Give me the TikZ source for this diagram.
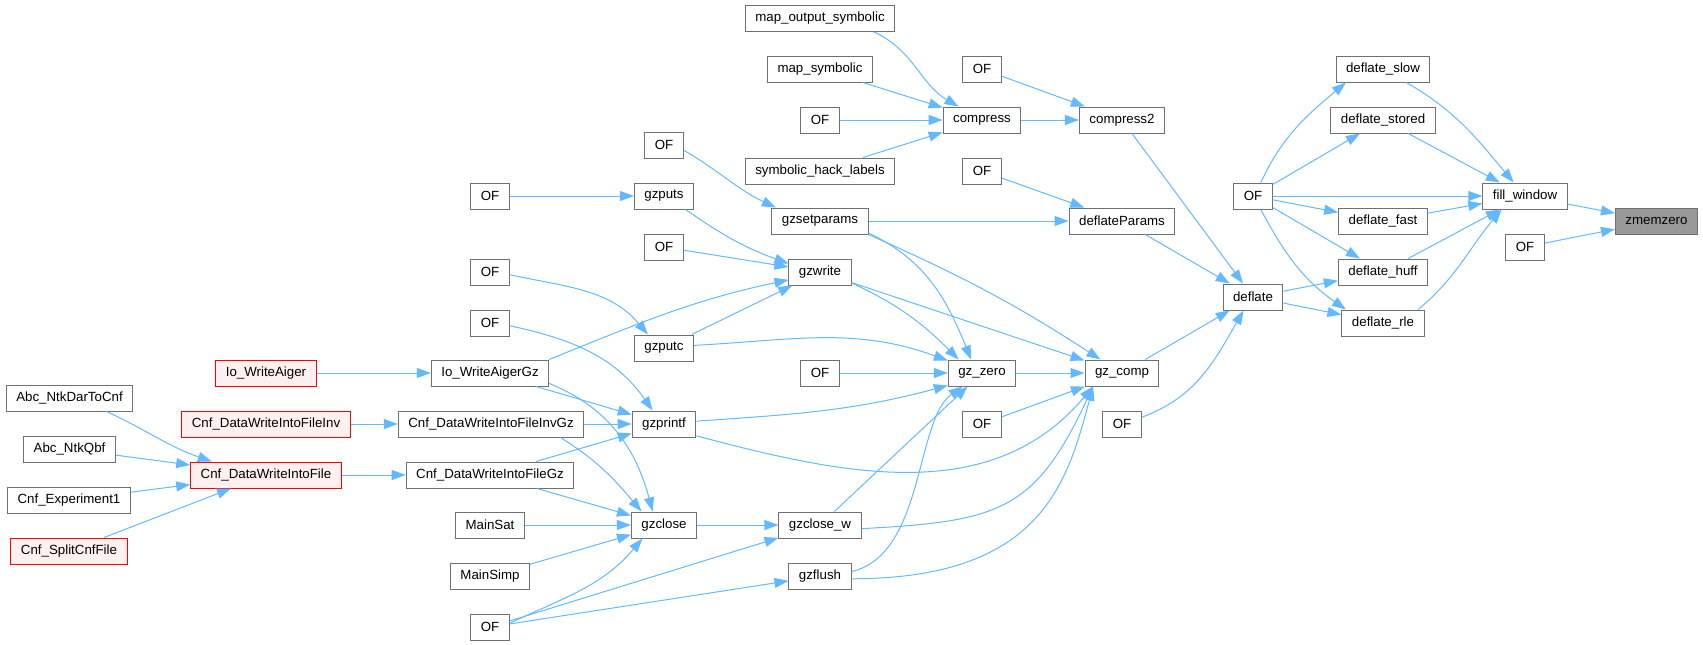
\documentclass[tikz,border=0pt]{standalone}
\usepackage{fontspec}
\setmainfont{Liberation Sans}
\usetikzlibrary{arrows.meta}
\definecolor{edgeblue}{HTML}{63B8FF}
\definecolor{boxgray}{HTML}{707070}
\definecolor{redfill}{HTML}{FFF0F0}
\definecolor{nodegray}{HTML}{999999}
\begin{document}
\begin{tikzpicture}[x=1pt,y=1pt,
    box/.style={draw=boxgray,fill=white,line width=1pt,minimum height=26pt,inner xsep=10pt,inner ysep=0pt,font=\fontsize{13.3}{16}\selectfont},
    redbox/.style={box,draw=red,fill=redfill},
    edge/.style={-{Triangle[length=14pt,width=10pt]},draw=edgeblue,line width=1pt}]
    \useasboundingbox (0,0) rectangle (1703,-645);
    \node[box] (mapout) at (820,-18.5) {map\_output\_symbolic};
    \node[box] (mapsym) at (820,-69) {map\_symbolic};
    \node[box] (ofc) at (820,-120) {OF};
    \node[box] (hack) at (820,-171) {symbolic\_hack\_labels};
    \node[box] (ofctwo) at (982,-69) {OF};
    \node[box] (compress) at (982,-120) {compress};
    \node[box] (ofdp) at (982,-171) {OF};
    \node[box] (compresstwo) at (1122,-120) {compress2};
    \node[box] (deflateparams) at (1122,-221) {deflateParams};
    \node[box] (ofgsp) at (664,-145) {OF};
    \node[box] (gzsetparams) at (820,-221) {gzsetparams};
    \node[box] (ofgp) at (490,-196) {OF};
    \node[box] (gzputs) at (664,-196) {gzputs};
    \node[box] (ofgw) at (664,-247) {OF};
    \node[box] (gzwrite) at (820,-272) {gzwrite};
    \node[box] (ofpc) at (490,-272) {OF};
    \node[box] (ofpf) at (490,-323) {OF};
    \node[box] (gzputc) at (664,-348) {gzputc};
    \node[box] (ofgzz) at (820,-373) {OF};
    \node[box] (gzzero) at (982,-373) {gz\_zero};
    \node[box] (gzcomp) at (1122,-373) {gz\_comp};
    \node[box] (ofgc) at (982,-424) {OF};
    \node[box] (ofd) at (1122,-424) {OF};
    \node[box] (ofdef) at (1253,-196) {OF};
    \node[box] (deflate) at (1253,-297) {deflate};
    \node[box] (dslow) at (1383,-69) {deflate\_slow};
    \node[box] (dstored) at (1383,-120) {deflate\_stored};
    \node[box] (dfast) at (1383,-221) {deflate\_fast};
    \node[box] (dhuff) at (1383,-272) {deflate\_huff};
    \node[box] (drle) at (1383,-323) {deflate\_rle};
    \node[box] (fillwin) at (1525,-196) {fill\_window};
    \node[box] (ofz) at (1525,-247) {OF};
    \node[box,fill=nodegray] (zmemzero) at (1656.5,-221) {zmemzero};
    \node[redbox] (writeaiger) at (266,-373) {Io\_WriteAiger};
    \node[box] (aigergz) at (490,-373) {Io\_WriteAigerGz};
    \node[redbox] (cnfinv) at (266,-424) {Cnf\_DataWriteIntoFileInv};
    \node[box] (cnfinvgz) at (491,-424) {Cnf\_DataWriteIntoFileInvGz};
    \node[redbox] (cnfwrite) at (266,-475) {Cnf\_DataWriteIntoFile};
    \node[box] (cnfgz) at (490,-475) {Cnf\_DataWriteIntoFileGz};
    \node[box] (ntkdar) at (69.5,-398) {Abc\_NtkDarToCnf};
    \node[box] (ntkqbf) at (69.5,-449) {Abc\_NtkQbf};
    \node[box] (experiment) at (69,-500) {Cnf\_Experiment1};
    \node[redbox] (splitcnf) at (69,-551) {Cnf\_SplitCnfFile};
    \node[box] (gzprintf) at (664,-424) {gzprintf};
    \node[box] (mainsat) at (490,-525) {MainSat};
    \node[box] (mainsimp) at (490,-576) {MainSimp};
    \node[box] (ofbot) at (490,-627) {OF};
    \node[box] (gzclose) at (664,-525) {gzclose};
    \node[box] (gzclosew) at (820,-525) {gzclose\_w};
    \node[box] (gzflush) at (820,-576) {gzflush};
    \draw[edge] (fillwin) -- (zmemzero);
    \draw[edge] (ofz) -- (zmemzero);
    \draw[edge] (dslow) to[out=-30,in=130] (fillwin);
    \draw[edge] (dstored) -- (fillwin);
    \draw[edge] (ofdef) -- (fillwin);
    \draw[edge] (dfast) -- (fillwin);
    \draw[edge] (dhuff) -- (fillwin);
    \draw[edge] (drle.21) to[out=40,in=-130] (fillwin.-150);
    \draw[edge] (ofdef.60) to[out=65,in=-140] (dslow.-160);
    \draw[edge] (ofdef) -- (dstored);
    \draw[edge] (ofdef) -- (dfast);
    \draw[edge] (ofdef) -- (dhuff);
    \draw[edge] (ofdef.-60) to[out=-62,in=145] (drle.160);
    \draw[edge] (deflate) -- (dhuff);
    \draw[edge] (deflate) -- (drle);
    \draw[edge] (compresstwo) -- (deflate);
    \draw[edge] (deflateparams) -- (deflate);
    \draw[edge] (gzcomp) -- (deflate);
    \draw[edge] (ofd.19) to[out=20,in=-120] (deflate.-125);
    \draw[edge] (ofctwo) -- (compresstwo);
    \draw[edge] (compress) -- (compresstwo);
    \draw[edge] (mapout.-14) to[out=-25,in=150] (compress.150);
    \draw[edge] (mapsym) -- (compress);
    \draw[edge] (ofc) -- (compress);
    \draw[edge] (hack) -- (compress);
    \draw[edge] (ofdp) -- (deflateparams);
    \draw[edge] (gzsetparams) -- (deflateparams);
    \draw[edge] (ofgsp.-15) to[out=-30,in=155] (gzsetparams.163);
    \draw[edge] (ofgp) -- (gzputs);
    \draw[edge] (gzputs.-32) to[out=-35,in=160] (gzwrite.165);
    \draw[edge] (ofgw) -- (gzwrite);
    \draw[edge] (aigergz.north east) to[out=22,in=-168] (gzwrite.194);
    \draw[edge] (gzputc) -- (gzwrite);
    \draw[edge] (ofpc.-8) to[out=-12,in=130] (gzputc.140);
    \draw[edge] (ofpf.-8) to[out=-12,in=125] (gzprintf.130);
    \draw[edge] (aigergz) -- (gzprintf);
    \draw[edge] (cnfinvgz) -- (gzprintf);
    \draw[edge] (cnfgz) -- (gzprintf);
    \draw[edge] (aigergz.-10) to[out=-22,in=105] (gzclose.130);
    \draw[edge] (cnfinvgz.-11) to[out=-32,in=130] (gzclose.149);
    \draw[edge] (cnfgz) -- (gzclose);
    \draw[edge] (mainsat) -- (gzclose);
    \draw[edge] (mainsimp) -- (gzclose);
    \draw[edge] (ofbot.11) to[out=25,in=-130] (gzclose.-148);
    \draw[edge] (gzclose) -- (gzclosew);
    \draw[edge] (ofbot) -- (gzclosew);
    \draw[edge] (ofbot) -- (gzflush);
    \draw[edge] (gzwrite.-19) to[out=-25,in=135] (gzzero.150);
    \draw[edge] (gzsetparams.-14) to[out=-25,in=112] (gzzero.129);
    \draw[edge] (gzputc.5) to[out=3,in=160] (gzzero.160);
    \draw[edge] (ofgzz) -- (gzzero);
    \draw[edge] (gzprintf.5) to[out=4,in=-165] (gzzero.-160);
    \draw[edge] (gzclosew) -- (gzzero);
    \draw[edge] (gzflush.8) to[out=13,in=-145,out distance=75pt,in distance=58pt] (gzzero.-145);
    \draw[edge] (gzwrite) -- (gzcomp);
    \draw[edge] (gzsetparams.south east) to[out=-24,in=147] (gzcomp.148);
    \draw[edge] (gzzero) -- (gzcomp);
    \draw[edge] (ofgc) -- (gzcomp);
    \draw[edge] (gzprintf.-20) to[out=-15,in=-130] (gzcomp.-155);
    \draw[edge] (gzclosew.-5) to[out=3,in=-115,looseness=1.3] (gzcomp.-155);
    \draw[edge] (gzflush.-5) to[out=0,in=-105,out distance=190pt,in distance=100pt] (gzcomp.-155);
    \draw[edge] (writeaiger) -- (aigergz);
    \draw[edge] (cnfinv) -- (cnfinvgz);
    \draw[edge] (cnfwrite) -- (cnfgz);
    \draw[edge] (ntkdar.-20) to[out=-25,in=161] (cnfwrite.166);
    \draw[edge] (ntkqbf) -- (cnfwrite);
    \draw[edge] (experiment) -- (cnfwrite);
    \draw[edge] (splitcnf) -- (cnfwrite);
\end{tikzpicture}
\end{document}
